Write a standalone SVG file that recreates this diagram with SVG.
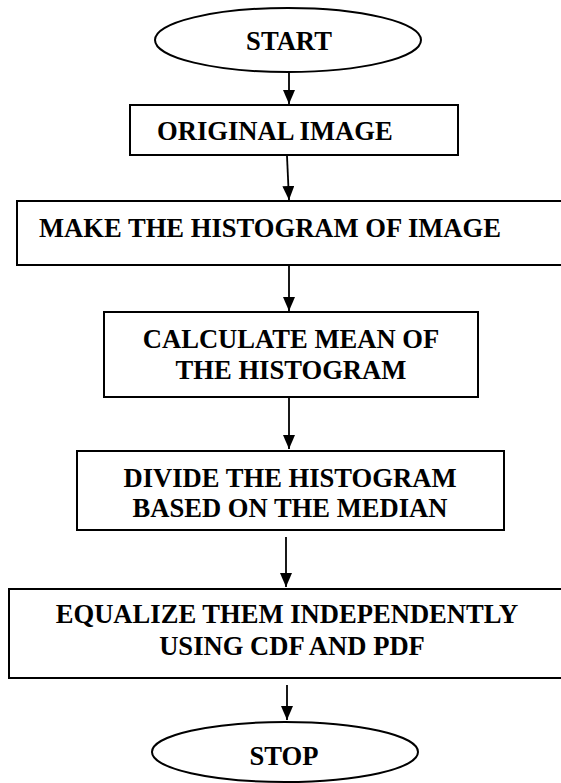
<svg xmlns="http://www.w3.org/2000/svg" width="561" height="783" viewBox="0 0 561 783">
<style>
.shape{fill:#fff;stroke:#000;stroke-width:2}
.lbl{font-weight:bold;font-size:26.6px;fill:#000}
.mid{text-anchor:middle}
.conn{stroke:#000;stroke-width:1.8;fill:none}
</style>
<defs>
<marker id="ah" markerUnits="userSpaceOnUse" markerWidth="14" markerHeight="12" refX="14" refY="6" orient="auto">
<path d="M0,0 L14,6 L0,12 z" fill="#000"/>
</marker>
</defs>
<g id="connectors">
<line class="conn" x1="289" y1="72" x2="289" y2="104" marker-end="url(#ah)"/>
<line class="conn" x1="287" y1="156" x2="289" y2="200" marker-end="url(#ah)"/>
<line class="conn" x1="289" y1="266" x2="289" y2="311" marker-end="url(#ah)"/>
<line class="conn" x1="289" y1="398" x2="289" y2="449" marker-end="url(#ah)"/>
<line class="conn" x1="286" y1="537" x2="286" y2="587" marker-end="url(#ah)"/>
<line class="conn" x1="287" y1="685" x2="287" y2="720" marker-end="url(#ah)"/>
</g>
<g font-family="'Liberation Serif', 'Times New Roman', 'DejaVu Serif', serif">
<g id="start">
<ellipse class="shape" cx="288" cy="40" rx="133" ry="32"/>
<text class="lbl mid" x="289" y="50">START</text>
</g>
<g id="original">
<rect class="shape" x="130" y="105" width="328" height="50"/>
<text class="lbl" x="157" y="140">ORIGINAL IMAGE</text>
</g>
<g id="histogram">
<rect class="shape" x="17" y="201" width="560" height="64"/>
<text class="lbl" x="39" y="237">MAKE THE HISTOGRAM OF IMAGE</text>
</g>
<g id="mean">
<rect class="shape" x="104" y="312" width="374" height="85"/>
<text class="lbl mid" x="291" y="348">CALCULATE MEAN OF</text>
<text class="lbl mid" x="291" y="379">THE HISTOGRAM</text>
</g>
<g id="divide">
<rect class="shape" x="77" y="451" width="427" height="79"/>
<text class="lbl mid" x="290" y="487">DIVIDE THE HISTOGRAM</text>
<text class="lbl mid" x="290" y="517">BASED ON THE MEDIAN</text>
</g>
<g id="equalize">
<rect class="shape" x="9" y="589" width="562" height="89"/>
<text class="lbl mid" x="287" y="623">EQUALIZE THEM INDEPENDENTLY</text>
<text class="lbl mid" x="292" y="655">USING CDF AND PDF</text>
</g>
<g id="stop">
<ellipse class="shape" cx="285" cy="752" rx="133" ry="30"/>
<text class="lbl mid" x="284" y="765">STOP</text>
</g>
</g>
</svg>
